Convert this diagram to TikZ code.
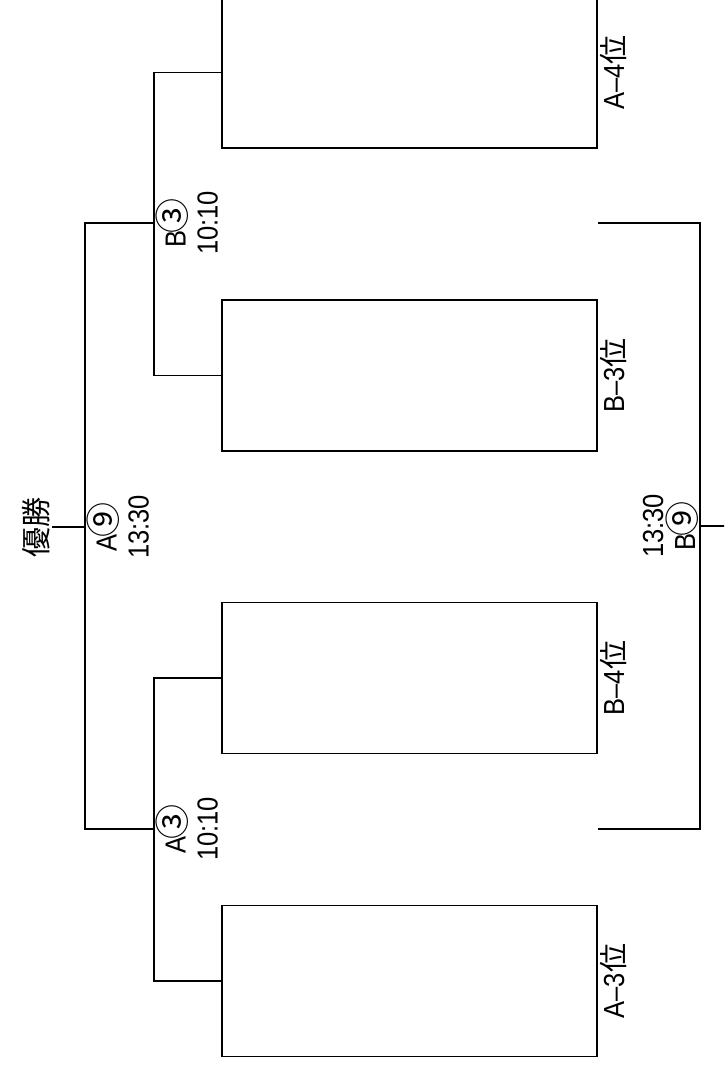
\documentclass[tikz,border=0pt]{standalone}
\usepackage{fontspec}
\setmainfont{Liberation Sans}
\newfontfamily\cjk{Noto Sans CJK JP}
\usepackage{graphicx}
\newcommand{\lat}[1]{\scalebox{0.88}[1]{#1}}
\newcommand{\circd}[1]{\kern-2.5pt{\cjk\fontsize{35}{35}\selectfont #1}}
\begin{document}
\begin{tikzpicture}[x=1pt,y=-1pt,line width=1.8pt,
  entry/.style={draw,minimum width=375pt,minimum height=151pt,inner sep=0pt},
  lab/.style={rotate=90,inner sep=1pt,align=center,font=\fontsize{29}{32}\selectfont}]
\path[use as bounding box] (0,0) rectangle (724,1066);
\clip (0,0) rectangle (724,1066);
% entry boxes
\node[entry] (b1) at (409.5,981) {};
\node[entry] (b2) at (409.5,678) {};
\node[entry] (b3) at (409.5,375.5) {};
\node[entry] (b4) at (409.5,72.5) {};
% junctions
\coordinate (jA3) at (154,829);
\coordinate (jB3) at (154,223);
\coordinate (jA9) at (85,527);
\coordinate (win) at (52,527);
\coordinate (rt) at (598,223);
\coordinate (rb) at (598,829);
\coordinate (jB9) at (700,526);
\coordinate (rout) at (730,526);
% bracket lines
\draw (b1.west) -| (jA3) |- (b2.west);
\draw (b4.west) -| (jB3) |- (b3.west);
\draw (jA3) -| (jA9) |- (jB3);
\draw (jA9) -- (win);
\draw (rt) -| (jB9) |- (rb);
\draw (jB9) -- (rout);
% labels
\node[lab,anchor=south] (yusho) at (win) {{\cjk\fontsize{30}{30}\selectfont 優勝}};
\node[lab,anchor=north] (lA9) at (jA9) {\lat{A}\circd{⑨}\\\lat{13:30}};
\node[lab,anchor=north] (lA3) at (jA3) {\lat{A}\circd{③}\\\lat{10:10}};
\node[lab,anchor=north] (lB3) at (jB3) {\lat{B}\circd{③}\\\lat{10:10}};
\node[lab,anchor=south] (lB9) at (jB9) {\lat{13:30}\\\lat{B}\circd{⑨}};
\node[lab,anchor=north] (t1) at (b1.east) {\lat{A–3}{\cjk 位}};
\node[lab,anchor=north] (t2) at (b2.east) {\lat{B–4}{\cjk 位}};
\node[lab,anchor=north] (t3) at (b3.east) {\lat{B–3}{\cjk 位}};
\node[lab,anchor=north] (t4) at (b4.east) {\lat{A–4}{\cjk 位}};
\end{tikzpicture}
\end{document}
